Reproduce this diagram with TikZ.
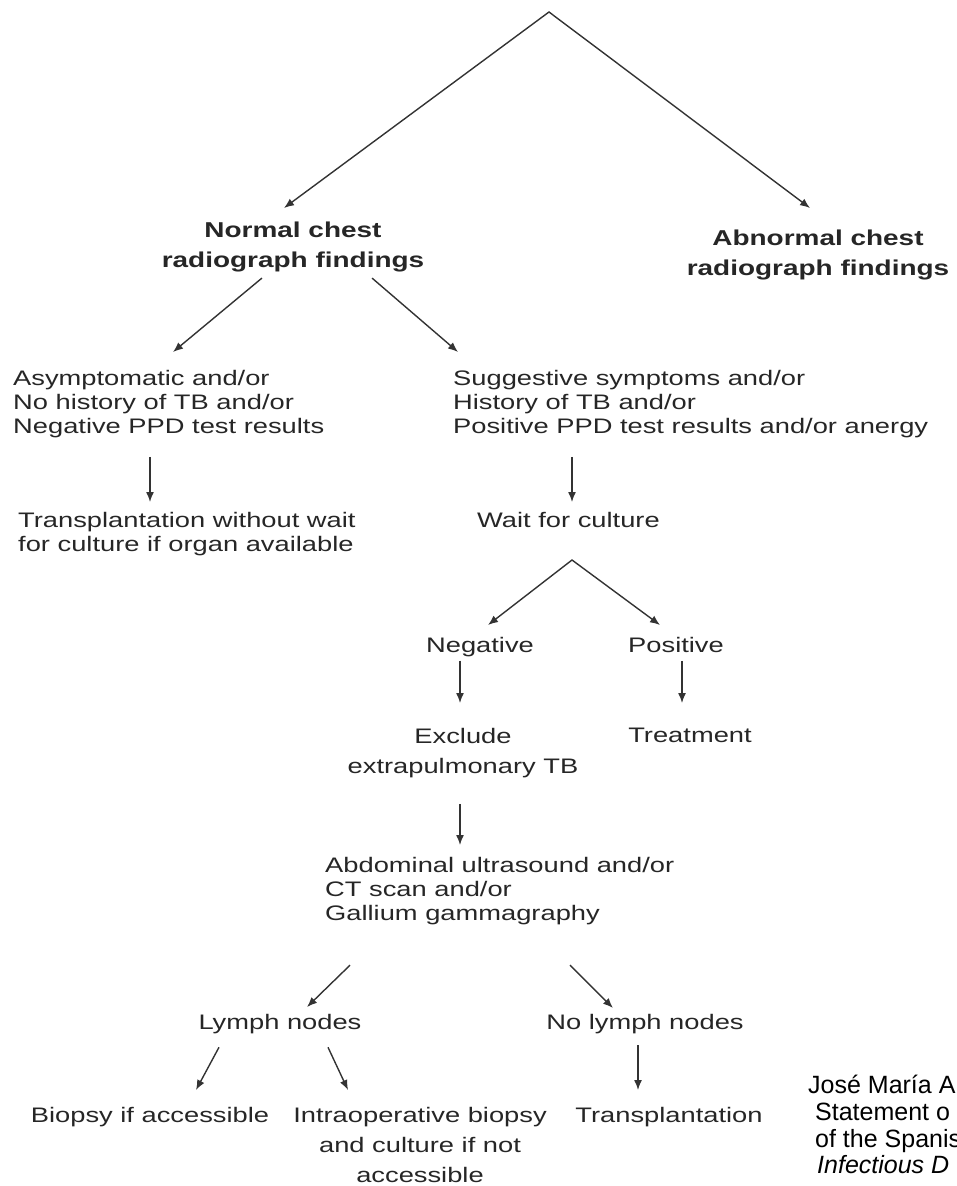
\documentclass[tikz,border=0pt]{standalone}
\usepackage{fontspec}
\setmainfont{Liberation Sans}[FakeStretch=1.3]
\newfontfamily\citefont{Liberation Sans}
\usetikzlibrary{arrows.meta}
\definecolor{ink}{HTML}{262626}
\definecolor{lnc}{HTML}{333333}
\begin{document}
\begin{tikzpicture}[x=1pt,y=-1pt,
  txt/.style={inner sep=0pt, text=ink, font=\fontsize{21}{24}\selectfont},
  hd/.style={txt, font=\fontsize{21.5}{29.5}\selectfont\bfseries, align=center, anchor=north},
  blk/.style={txt, align=left, anchor=north west},
  ctr/.style={txt, align=center, anchor=north},
  wide/.style={font=\fontsize{21}{30}\selectfont},
  arr/.style={draw=lnc, line width=1.4pt, -{Latex[length=10pt,width=8pt]}},
  fork/.style={draw=lnc, line width=1.4pt, line join=miter, {Latex[length=10pt,width=8pt]}-{Latex[length=10pt,width=8pt]}},
  cite/.style={inner sep=0pt, anchor=base west, text=black, font=\citefont\fontsize{25}{27}\selectfont}
]
\useasboundingbox (0,0) rectangle (957,1186);

% headings
\coordinate (apex) at (549,12);
\node[hd] (normal) at (293,222) {Normal chest\\radiograph findings};
\node[hd] (abn) at (818,230) {Abnormal chest\\radiograph findings};
\draw[fork] ([xshift=-9pt,yshift=14pt]normal.north) -- (apex) -- ([xshift=-8pt,yshift=22pt]abn.north);

% second level
\node[blk] (asym) at (13,370) {Asymptomatic and/or\\No history of TB and/or\\Negative PPD test results};
\node[blk] (sugg) at (453,370) {Suggestive symptoms and/or\\History of TB and/or\\Positive PPD test results and/or anergy};
\draw[arr] ([xshift=-31pt,yshift=-6pt]normal.south) -- ([xshift=160pt,yshift=18pt]asym.north west);
\draw[arr] ([xshift=79pt,yshift=-6pt]normal.south) -- ([xshift=5pt,yshift=18pt]sugg.north west);

% third level
\node[blk] (trans1) at (18,511.6) {Transplantation without wait\\for culture if organ available};
\node[blk] (wait) at (477,511.6) {Wait for culture};
\draw[arr] ([xshift=137pt,yshift=-19pt]asym.south west) -- ([xshift=132pt,yshift=9.6pt]trans1.north west);
\draw[arr] ([xshift=119pt,yshift=-19pt]sugg.south west) -- ([xshift=95pt,yshift=9.6pt]wait.north west);

% culture results
\coordinate (cfork) at (572,560);
\node[ctr] (neg) at (480,637) {Negative};
\node[ctr] (pos) at (676,637) {Positive};
\draw[fork] ([xshift=8pt,yshift=12pt]neg.north) -- (cfork) -- ([xshift=-16pt,yshift=12pt]pos.north);

\node[ctr, wide] (excl) at (463,728) {Exclude\\extrapulmonary TB};
\node[ctr] (treat) at (690,728) {Treatment};
\draw[arr] ([xshift=-20pt,yshift=-3.6pt]neg.south) -- ([xshift=-3pt,yshift=25pt]excl.north);
\draw[arr] ([xshift=6pt,yshift=-8pt]pos.south) -- ([xshift=-8pt,yshift=25pt]treat.north);

% imaging
\node[blk] (abd) at (325,856.6) {Abdominal ultrasound and/or\\CT scan and/or\\Gallium gammagraphy};
\draw[arr] ([xshift=-3pt,yshift=-26pt]excl.south) -- ([xshift=135pt,yshift=11.6pt]abd.north west);

\node[ctr] (lymph) at (280,1013.7) {Lymph nodes};
\node[ctr] (nolymph) at (645,1013.7) {No lymph nodes};
\draw[arr] ([xshift=25pt,yshift=-40.6pt]abd.south west) -- ([xshift=27pt,yshift=6.7pt]lymph.north);
\draw[arr] ([xshift=245pt,yshift=-40.6pt]abd.south west) -- ([xshift=-32pt,yshift=5.7pt]nolymph.north);

% bottom
\node[ctr] (biopsy) at (150,1106.7) {Biopsy if accessible};
\node[ctr, wide] (intra) at (420,1106.7) {Intraoperative biopsy\\and culture if not\\accessible};
\node[ctr] (trans2) at (669,1106.7) {Transplantation};
\draw[arr] ([xshift=-61pt,yshift=-13.6pt]lymph.south) -- ([xshift=46pt,yshift=16.7pt]biopsy.north);
\draw[arr] ([xshift=48pt,yshift=-13.6pt]lymph.south) -- ([xshift=-72pt,yshift=16.7pt]intra.north);
\draw[arr] ([xshift=-7pt,yshift=-11.6pt]nolymph.south) -- ([xshift=-31pt,yshift=16.7pt]trans2.north);

% citation (cut at the right edge)
\node[cite] (c1) at (808,1093) {José María A};
\node[cite] (c2) at (815,1120) {Statement o};
\node[cite] (c3) at (815,1147) {of the Spanis};
\node[cite, font=\citefont\itshape\fontsize{25}{27}\selectfont] (c4) at (817,1173) {Infectious D};
\end{tikzpicture}
\end{document}
